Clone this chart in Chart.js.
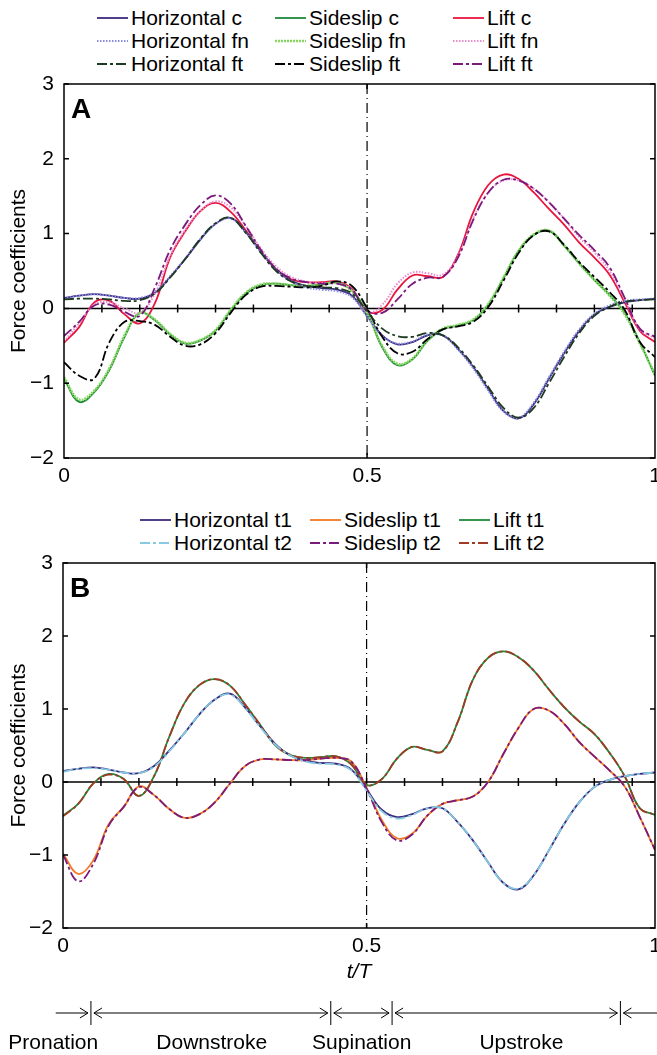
<!DOCTYPE html>
<html>
<head>
<meta charset="utf-8">
<script src="https://cdn.jsdelivr.net/npm/chart.js@4.4.0/dist/chart.umd.min.js"></script>
<style>
body { margin: 0; background: #fff; width: 657px; height: 1055px; overflow: hidden; position: relative; font-family: "Liberation Sans", Arial, sans-serif; }
.leg { position: absolute; height: 24px; display: flex; align-items: center; font-size: 21px; color: #000; white-space: nowrap; }
.leg svg { margin-right: 3px; }
canvas { position: absolute; left: 0; }
</style>
</head>
<body>
<div id="legA"></div>
<canvas id="chartA" width="657" height="420" style="top:72px"></canvas>
<div id="legB"></div>
<canvas id="chartB" width="657" height="500" style="top:555px"></canvas>
<script>
// time grid (t/T), same for every series
var tGrid = [0, 0.025, 0.05, 0.075, 0.1, 0.125, 0.15, 0.175, 0.2, 0.225,
    0.25, 0.275, 0.3, 0.325, 0.35, 0.375, 0.4, 0.425, 0.45, 0.475,
    0.5, 0.525, 0.55, 0.575, 0.6, 0.625, 0.65, 0.675, 0.7, 0.725,
    0.75, 0.775, 0.8, 0.825, 0.85, 0.875, 0.9, 0.925, 0.95, 0.975]

// panel A
var horizC = [0.14, 0.17, 0.19, 0.17, 0.14, 0.13, 0.21, 0.42, 0.66, 0.92,
    1.13, 1.21, 1.02, 0.76, 0.52, 0.37, 0.30, 0.27, 0.25, 0.17,
    -0.10, -0.36, -0.48, -0.45, -0.36, -0.36, -0.54, -0.78, -1.08, -1.37,
    -1.47, -1.28, -0.94, -0.60, -0.30, -0.08, 0.02, 0.08, 0.11, 0.13]
var horizFn = [0.13, 0.17, 0.19, 0.17, 0.14, 0.14, 0.22, 0.43, 0.67, 0.93,
    1.13, 1.20, 1.01, 0.75, 0.51, 0.36, 0.28, 0.25, 0.23, 0.15,
    -0.11, -0.37, -0.47, -0.44, -0.35, -0.36, -0.55, -0.80, -1.10, -1.38,
    -1.46, -1.26, -0.92, -0.58, -0.28, -0.07, 0.04, 0.10, 0.12, 0.13]
var horizFt = [0.12, 0.13, 0.13, 0.12, 0.10, 0.11, 0.20, 0.41, 0.66, 0.93,
    1.14, 1.21, 1.01, 0.74, 0.50, 0.36, 0.30, 0.28, 0.27, 0.20,
    -0.04, -0.27, -0.37, -0.38, -0.33, -0.36, -0.52, -0.76, -1.05, -1.33,
    -1.46, -1.33, -1.00, -0.65, -0.33, -0.10, 0.02, 0.09, 0.11, 0.12]
var sideC = [-0.94, -1.25, -1.12, -0.82, -0.38, -0.06, -0.16, -0.35, -0.47, -0.43,
    -0.30, -0.03, 0.20, 0.31, 0.33, 0.31, 0.30, 0.32, 0.35, 0.24,
    -0.05, -0.52, -0.76, -0.68, -0.43, -0.28, -0.23, -0.16, 0.05, 0.40,
    0.77, 0.98, 1.04, 0.84, 0.60, 0.38, 0.18, -0.06, -0.45, -0.90]
var sideFn = [-0.92, -1.22, -1.10, -0.80, -0.36, -0.06, -0.15, -0.34, -0.46, -0.42,
    -0.29, -0.02, 0.21, 0.32, 0.33, 0.31, 0.30, 0.32, 0.34, 0.23,
    -0.06, -0.50, -0.74, -0.67, -0.42, -0.27, -0.22, -0.15, 0.06, 0.41,
    0.77, 0.99, 1.04, 0.84, 0.60, 0.38, 0.17, -0.08, -0.47, -0.88]
var sideFt = [-0.72, -0.90, -0.94, -0.45, -0.18, -0.17, -0.22, -0.38, -0.50, -0.48,
    -0.33, -0.06, 0.18, 0.29, 0.30, 0.29, 0.28, 0.30, 0.36, 0.30,
    0.00, -0.38, -0.60, -0.58, -0.41, -0.28, -0.24, -0.18, 0.02, 0.37,
    0.74, 0.98, 1.03, 0.85, 0.62, 0.42, 0.22, -0.02, -0.45, -0.65]
var liftC = [-0.46, -0.25, 0.08, 0.10, -0.08, -0.20, 0.07, 0.68, 1.03, 1.30,
    1.41, 1.29, 1.04, 0.76, 0.52, 0.39, 0.35, 0.35, 0.36, 0.26,
    -0.04, -0.02, 0.25, 0.44, 0.43, 0.42, 0.72, 1.28, 1.65, 1.79,
    1.73, 1.55, 1.33, 1.12, 0.88, 0.68, 0.45, 0.08, -0.30, -0.45]
var liftFn = [-0.44, -0.20, 0.05, 0.08, 0.00, -0.06, 0.20, 0.70, 1.05, 1.30,
    1.43, 1.35, 1.10, 0.80, 0.56, 0.42, 0.36, 0.34, 0.34, 0.25,
    -0.05, 0.05, 0.33, 0.48, 0.47, 0.45, 0.70, 1.20, 1.55, 1.71,
    1.71, 1.60, 1.42, 1.20, 0.95, 0.75, 0.50, 0.12, -0.28, -0.40]
var liftFt = [-0.37, -0.18, 0.04, 0.05, -0.05, -0.10, 0.28, 0.78, 1.12, 1.38,
    1.51, 1.40, 1.10, 0.78, 0.53, 0.40, 0.35, 0.33, 0.33, 0.25,
    -0.03, -0.06, 0.12, 0.33, 0.41, 0.42, 0.68, 1.18, 1.55, 1.72,
    1.71, 1.60, 1.42, 1.20, 0.98, 0.78, 0.55, 0.14, -0.27, -0.38]

// panel B
var horizT1 = [0.15, 0.18, 0.20, 0.17, 0.13, 0.12, 0.22, 0.43, 0.67, 0.93,
    1.13, 1.21, 1.02, 0.76, 0.52, 0.36, 0.29, 0.26, 0.25, 0.17,
    -0.10, -0.38, -0.48, -0.44, -0.36, -0.36, -0.55, -0.80, -1.10, -1.38,
    -1.47, -1.28, -0.94, -0.58, -0.28, -0.07, 0.03, 0.08, 0.11, 0.13]
var horizT2 = [0.14, 0.18, 0.19, 0.17, 0.13, 0.12, 0.21, 0.42, 0.67, 0.93,
    1.13, 1.20, 1.01, 0.75, 0.51, 0.36, 0.28, 0.25, 0.24, 0.16,
    -0.12, -0.40, -0.50, -0.45, -0.36, -0.36, -0.55, -0.80, -1.10, -1.38,
    -1.46, -1.28, -0.94, -0.58, -0.28, -0.07, 0.03, 0.08, 0.11, 0.13]
var sideT1 = [-0.98, -1.26, -1.07, -0.58, -0.34, -0.06, -0.18, -0.37, -0.49, -0.44,
    -0.28, -0.02, 0.22, 0.31, 0.31, 0.30, 0.30, 0.32, 0.33, 0.28,
    -0.08, -0.52, -0.77, -0.71, -0.46, -0.30, -0.25, -0.20, 0.00, 0.38,
    0.74, 1.00, 0.98, 0.80, 0.55, 0.35, 0.16, -0.06, -0.48, -0.93]
var sideT2 = [-1.00, -1.36, -1.12, -0.60, -0.34, -0.07, -0.18, -0.37, -0.49, -0.44,
    -0.28, -0.02, 0.22, 0.31, 0.31, 0.30, 0.30, 0.32, 0.33, 0.28,
    -0.09, -0.55, -0.80, -0.72, -0.46, -0.30, -0.25, -0.20, 0.00, 0.38,
    0.74, 1.00, 0.98, 0.80, 0.55, 0.35, 0.16, -0.06, -0.48, -0.93]
var liftT1 = [-0.46, -0.30, -0.02, 0.11, 0.04, -0.19, 0.08, 0.62, 1.08, 1.33,
    1.41, 1.32, 1.06, 0.78, 0.50, 0.37, 0.33, 0.34, 0.35, 0.24,
    -0.04, 0.04, 0.32, 0.48, 0.44, 0.42, 0.82, 1.40, 1.70, 1.79,
    1.71, 1.53, 1.27, 1.03, 0.83, 0.66, 0.40, 0.08, -0.36, -0.45]
var liftT2 = [-0.47, -0.30, -0.02, 0.10, 0.04, -0.19, 0.08, 0.62, 1.08, 1.33,
    1.41, 1.32, 1.06, 0.78, 0.50, 0.37, 0.33, 0.34, 0.35, 0.24,
    -0.04, 0.04, 0.32, 0.48, 0.44, 0.42, 0.82, 1.40, 1.70, 1.79,
    1.71, 1.53, 1.27, 1.03, 0.83, 0.66, 0.40, 0.08, -0.36, -0.45]

// axes: the figure is cropped just before t/T = 1, the last label sits on the edge
var xMax = 0.975
var xTickValues = [0, 0.5, 0.975]
var xTickLabels = ['0', '0.5', '1']
var yTickValues = [-2, -1, 0, 1, 2, 3]

// wing-beat phases under panel B
var phaseEdges = [0.046, 0.441, 0.542, 0.918]
var phaseNames = ['Pronation', 'Downstroke', 'Supination', 'Upstroke']
var phaseLabelT = [-0.016, 0.245, 0.492, 0.755]

var FONT = '"Liberation Sans", Arial, sans-serif'
var DASHDOT = [10, 3, 3, 3]
var DOT = [1.5, 1.5]

var specsA = [
    { label: 'Horizontal c', data: horizC, color: '#3b2b7c', dash: [], width: 1.8, order: 3 },
    { label: 'Sideslip c', data: sideC, color: '#1f8a3c', dash: [], width: 1.8, order: 3 },
    { label: 'Lift c', data: liftC, color: '#e8163e', dash: [], width: 1.8, order: 3 },
    { label: 'Horizontal fn', data: horizFn, color: '#8a8ce0', dash: DOT, width: 2, order: 2 },
    { label: 'Sideslip fn', data: sideFn, color: '#86d860', dash: [2, 1], width: 2.6, order: 2 },
    { label: 'Lift fn', data: liftFn, color: '#e98bcf', dash: DOT, width: 2, order: 2 },
    { label: 'Horizontal ft', data: horizFt, color: '#1e3a20', dash: DASHDOT, width: 1.8, order: 1 },
    { label: 'Sideslip ft', data: sideFt, color: '#000000', dash: DASHDOT, width: 1.8, order: 1 },
    { label: 'Lift ft', data: liftFt, color: '#7a1a7c', dash: DASHDOT, width: 1.8, order: 1 }
]

var specsB = [
    { label: 'Horizontal t1', data: horizT1, color: '#3b2b7c', dash: [], width: 1.8, order: 2 },
    { label: 'Sideslip t1', data: sideT1, color: '#f47a22', dash: [], width: 1.8, order: 2 },
    { label: 'Lift t1', data: liftT1, color: '#1f8a3c', dash: [], width: 1.8, order: 2 },
    { label: 'Horizontal t2', data: horizT2, color: '#86c9e2', dash: DASHDOT, width: 1.8, order: 1 },
    { label: 'Sideslip t2', data: sideT2, color: '#7a1a7c', dash: DASHDOT, width: 1.8, order: 1 },
    { label: 'Lift t2', data: liftT2, color: '#a03a22', dash: DASHDOT, width: 1.8, order: 1 }
]

function makeLegend(id, specs, colX, rowY) {
    var box = document.getElementById(id)
    specs.forEach(function(s, i) {
        var d = document.createElement('div')
        d.className = 'leg'
        d.style.left = colX[i % 3] + 'px'
        d.style.top = (rowY[Math.floor(i / 3)] - 12) + 'px'
        var dash = s.dash.length ? ' stroke-dasharray="' + s.dash.join(' ') + '"' : ''
        d.innerHTML = '<svg width="31" height="8"><line x1="0" y1="4" x2="31" y2="4" stroke="' + s.color +
            '" stroke-width="' + s.width + '"' + dash + '/></svg>' + s.label
        box.appendChild(d)
    })
}

function toDatasets(specs) {
    return specs.map(function(s) {
        return {
            label: s.label,
            data: tGrid.map(function(t, i) { return { x: t, y: s.data[i] } }),
            borderColor: s.color,
            borderWidth: s.width,
            borderDash: s.dash,
            order: s.order,
            pointRadius: 0,
            tension: 0.4,
            fill: false
        }
    })
}

function minusLabel(v) {
    return v < 0 ? '\u2212' + Math.abs(v) : String(v)
}

// keep the plot box where the figure has it, labels may hang over the edges
function noScalePadding(s) {
    s.paddingLeft = 0
    s.paddingRight = 0
    s.paddingTop = 0
    s.paddingBottom = 0
}

var framePlugin = {
    id: 'frame',
    beforeDatasetsDraw: function(chart) {
        var ctx = chart.ctx, a = chart.chartArea, x = chart.scales.x, y = chart.scales.y
        ctx.save()
        var y0 = y.getPixelForValue(0)
        ctx.strokeStyle = '#000'
        ctx.lineWidth = 1.5
        ctx.beginPath()
        ctx.moveTo(a.left, y0)
        ctx.lineTo(a.right, y0)
        for (var k = 1; k < 16; k++) {
            var px = x.getPixelForValue(k / 16)
            if (px >= a.right) break
            ctx.moveTo(px, y0 - 4)
            ctx.lineTo(px, y0 + 4)
        }
        ctx.stroke()
        var xm = x.getPixelForValue(0.5)
        ctx.lineWidth = 1.2
        ctx.setLineDash([10, 4, 1, 4])
        ctx.beginPath()
        ctx.moveTo(xm, a.top)
        ctx.lineTo(xm, a.bottom)
        ctx.stroke()
        ctx.restore()
    },
    afterDatasetsDraw: function(chart, args, opts) {
        var ctx = chart.ctx, a = chart.chartArea, x = chart.scales.x, y = chart.scales.y
        ctx.save()
        ctx.strokeStyle = '#000'
        ctx.lineWidth = 1.5
        ctx.strokeRect(a.left, a.top, a.right - a.left, a.bottom - a.top)
        ctx.beginPath()
        yTickValues.forEach(function(v) {
            var py = y.getPixelForValue(v)
            ctx.moveTo(a.left, py); ctx.lineTo(a.left + 5, py)
            ctx.moveTo(a.right, py); ctx.lineTo(a.right - 5, py)
        })
        var xm = x.getPixelForValue(0.5)
        ctx.moveTo(xm, a.top); ctx.lineTo(xm, a.top + 5)
        ctx.moveTo(xm, a.bottom); ctx.lineTo(xm, a.bottom - 5)
        ctx.stroke()
        ctx.fillStyle = '#000'
        ctx.font = 'bold 28px ' + FONT
        ctx.textBaseline = 'alphabetic'
        ctx.fillText(opts.letter, a.left + 7, a.top + 34)
        ctx.restore()
    },
    afterDraw: function(chart, args, opts) {
        if (!opts.phases) return
        var ctx = chart.ctx, a = chart.chartArea, x = chart.scales.x
        var ya = a.bottom + 85, yl = a.bottom + 115
        var ex = phaseEdges.map(function(t) { return x.getPixelForValue(t) })
        ctx.save()
        ctx.strokeStyle = '#000'
        ctx.lineWidth = 1
        function head(px, dir) {
            ctx.moveTo(px - dir * 8, ya - 5)
            ctx.lineTo(px, ya)
            ctx.lineTo(px - dir * 8, ya + 5)
        }
        ctx.beginPath()
        ex.forEach(function(px) {
            ctx.moveTo(px, ya - 12); ctx.lineTo(px, ya + 12)
        })
        var x0 = x.getPixelForValue(-0.012)
        ctx.moveTo(x0, ya); ctx.lineTo(ex[0] - 3, ya); head(ex[0] - 3, 1)
        for (var i = 0; i < ex.length - 1; i++) {
            ctx.moveTo(ex[i] + 3, ya); ctx.lineTo(ex[i + 1] - 3, ya)
            head(ex[i] + 3, -1); head(ex[i + 1] - 3, 1)
        }
        var last = ex[ex.length - 1]
        ctx.moveTo(last + 3, ya); ctx.lineTo(chart.width + 2, ya); head(last + 3, -1)
        ctx.stroke()
        ctx.fillStyle = '#000'
        ctx.font = '21px ' + FONT
        ctx.textAlign = 'center'
        ctx.textBaseline = 'middle'
        phaseNames.forEach(function(name, i) {
            ctx.fillText(name, x.getPixelForValue(phaseLabelT[i]), yl)
        })
        ctx.restore()
    }
}

Chart.defaults.font.family = FONT
Chart.defaults.font.size = 21
Chart.defaults.color = '#000'

function makeChart(id, specs, opt) {
    return new Chart(document.getElementById(id), {
        type: 'line',
        data: { datasets: toDatasets(specs) },
        plugins: [framePlugin],
        options: {
            responsive: false,
            animation: false,
            events: [],
            layout: { autoPadding: false, padding: { top: opt.padTop, right: 2, left: 0, bottom: 0 } },
            plugins: {
                legend: { display: false },
                tooltip: { enabled: false },
                frame: { letter: opt.letter, phases: opt.phases }
            },
            scales: {
                x: {
                    type: 'linear',
                    min: 0,
                    max: xMax,
                    grid: { display: false, drawTicks: false },
                    border: { display: false },
                    afterBuildTicks: function(s) {
                        s.ticks = xTickValues.map(function(v) { return { value: v } })
                    },
                    afterFit: function(s) {
                        s.height = opt.xHeight
                        noScalePadding(s)
                    },
                    ticks: {
                        padding: 6,
                        maxRotation: 0,
                        autoSkip: false,
                        callback: function(v, i) { return xTickLabels[i] }
                    },
                    title: opt.xTitle ? {
                        display: true,
                        text: 't/T',
                        font: { size: 21, style: 'italic' },
                        padding: { top: 0, bottom: 70 }
                    } : { display: false }
                },
                y: {
                    min: -2,
                    max: 3,
                    grid: { display: false, drawTicks: false },
                    border: { display: false },
                    afterFit: function(s) {
                        s.width = opt.yWidth
                        noScalePadding(s)
                    },
                    afterBuildTicks: function(s) {
                        s.ticks = yTickValues.map(function(v) { return { value: v } })
                    },
                    ticks: { padding: 10, callback: minusLabel },
                    title: {
                        display: true,
                        text: 'Force coefficients',
                        font: { size: 21 },
                        padding: { top: 7, bottom: 0 }
                    }
                }
            }
        }
    })
}

makeLegend('legA', specsA, [97, 275, 453], [18, 41, 64])
makeLegend('legB', specsB, [140, 310, 459], [520, 543])

makeChart('chartA', specsA, { padTop: 12, xHeight: 34, yWidth: 64, letter: 'A', phases: false, xTitle: false })
makeChart('chartB', specsB, { padTop: 8, xHeight: 127, yWidth: 63, letter: 'B', phases: true, xTitle: true })
</script>
</body>
</html>
